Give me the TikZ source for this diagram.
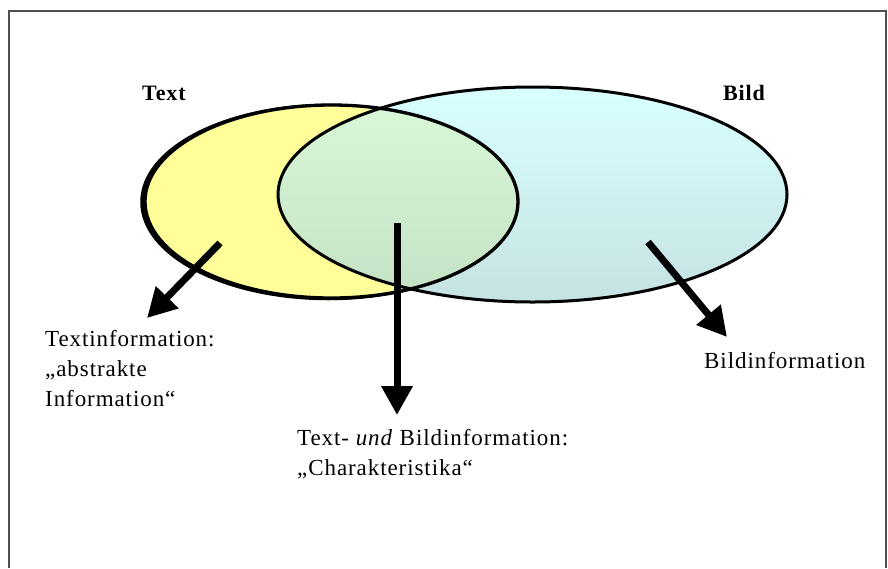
\documentclass[tikz,border=0pt]{standalone}
\usepackage{fontspec}
\setmainfont{Liberation Serif}[LetterSpace=4]
\usetikzlibrary{arrows.meta}
\definecolor{yellowF}{HTML}{FFFF99}
\definecolor{cyanTop}{HTML}{D9FFFF}
\definecolor{cyanBot}{HTML}{C6E2E2}
\definecolor{greenTop}{HTML}{DAFAD8}
\definecolor{greenBot}{HTML}{C4E1C5}
\definecolor{frameC}{HTML}{505050}
\begin{document}
\begin{tikzpicture}[x=1pt,y=-1pt,
  lbl/.style={anchor=base west, inner sep=0pt, font=\fontsize{23}{30}\selectfont},
  bigarrow/.style={line width=7pt, -{Triangle[length=29pt,width=30pt]}},
  setline/.style={line width=3pt, draw=black},
  framebox/.style={line width=1.5pt, draw=frameC}]
\useasboundingbox (0,0) rectangle (888,568);
\draw[framebox] (9,568) -- (9,11) -- (886,11) -- (886,568);
% centres
\coordinate (ctext) at (331.5,201.5);
\coordinate (cbild) at (532.5,194.5);
\coordinate (cshadow) at (328.5,202);
% text set (yellow) with slight shadow on the left
\draw[line width=3.5pt] (cshadow) ellipse [x radius=186.5, y radius=96.5];
\fill[yellowF] (ctext) ellipse [x radius=186.5, y radius=96.5];
% image set (cyan gradient)
\shade[top color=cyanTop, bottom color=cyanBot] (cbild) ellipse [x radius=254.5, y radius=107.5];
% overlap
\begin{scope}
  \clip (ctext) ellipse [x radius=186.5, y radius=96.5];
  \shade[top color=greenTop, bottom color=greenBot] (cbild) ellipse [x radius=254.5, y radius=107.5];
\end{scope}
% outlines
\draw[line width=3.3pt] (ctext) ellipse [x radius=186.5, y radius=96.5];
\draw[setline] (cbild) ellipse [x radius=254.5, y radius=107.5];
% titles
\node[lbl, font=\fontsize{22}{30}\selectfont\bfseries] (ttext) at (142,100) {Text};
\node[lbl, font=\fontsize{22}{30}\selectfont\bfseries] (tbild) at (723,100) {Bild};
% arrows
\coordinate (a1s) at (220,243);
\coordinate (a1e) at (147,318);
\coordinate (a2s) at (397,223);
\coordinate (a2e) at (397,415);
\coordinate (a3s) at (648,242);
\coordinate (a3e) at (727,337);
\draw[bigarrow] (a1s) -- (a1e);
\draw[bigarrow] (a2s) -- (a2e);
\draw[bigarrow] (a3s) -- (a3e);
% labels
\node[lbl] (ltext) at (45,346) {\begin{tabular}[t]{@{}l@{}}Textinformation:\\„abstrakte\\Information“\end{tabular}};
\node[lbl] (lboth) at (297,445) {\begin{tabular}[t]{@{}l@{}}Text- \textit{und} Bildinformation:\\„Charakteristika“\end{tabular}};
\node[lbl] (lbild) at (704,368) {Bildinformation};
\end{tikzpicture}
\end{document}
